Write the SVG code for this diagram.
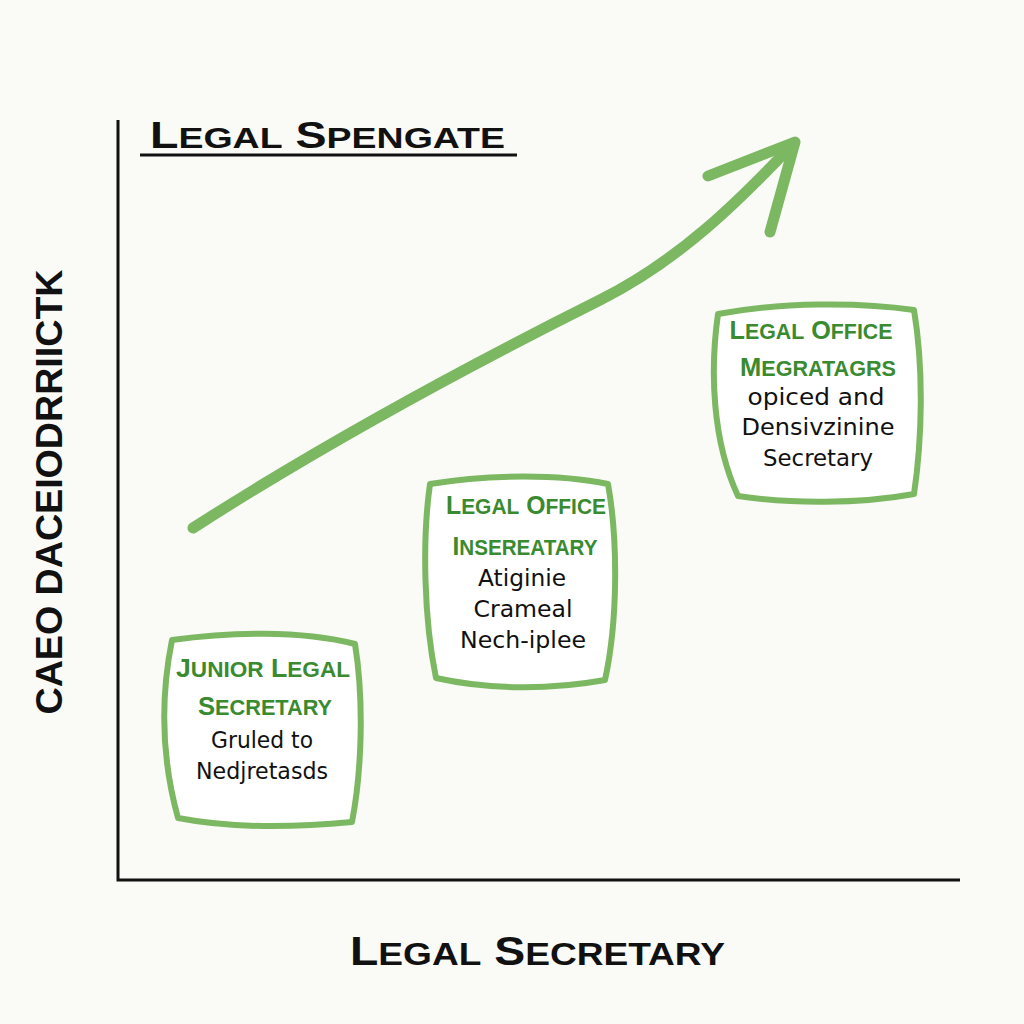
<svg xmlns="http://www.w3.org/2000/svg" width="1024" height="1024" viewBox="0 0 1024 1024">
<style>
.axis{stroke:#111;stroke-width:3;fill:none}
.box{fill:#fff;stroke:#7cb862;stroke-width:6;stroke-linejoin:round}
.g{font-family:"Liberation Sans",Arial,sans-serif;fill:#3a8a30;text-anchor:middle;font-size:26px;font-weight:bold}
.g tspan{font-size:22px}
.b{font-family:"DejaVu Sans","Liberation Sans",sans-serif;fill:#111;text-anchor:middle;font-size:23px}
.h{font-family:"Liberation Sans",Arial,sans-serif;fill:#111;font-weight:bold}
.arrow{stroke:#7cb862;stroke-width:11;fill:none;stroke-linecap:round;stroke-linejoin:round}
</style>
<rect width="1024" height="1024" fill="#fafaf7"/>
<g id="axes">
<path class="axis" d="M118 120 L118 880 L960 880"/>
<line x1="140" y1="155" x2="517" y2="155" stroke="#111" stroke-width="3"/>
</g>
<g id="title">
<text class="h" x="150" y="148" font-size="36" textLength="355" lengthAdjust="spacingAndGlyphs">L<tspan font-size="29">EGAL</tspan> S<tspan font-size="29">PENGATE</tspan></text>
</g>
<g id="ylabel">
<text class="h" transform="translate(62 492) rotate(-90)" text-anchor="middle" font-size="36" textLength="445" lengthAdjust="spacingAndGlyphs">CAEO DACEIODRRIICTK</text>
</g>
<g id="xlabel">
<text class="h" x="350" y="965" font-size="40" textLength="375" lengthAdjust="spacingAndGlyphs">L<tspan font-size="32">EGAL</tspan> S<tspan font-size="32">ECRETARY</tspan></text>
</g>
<g id="connectors">
<path class="arrow" d="M193 528 C330 440 480 360 600 300 C680 260 740 200 792 145"/>
<path class="arrow" d="M708 176 L795 142 L770 232"/>
</g>
<g id="node1">
<path class="box" d="M172 640 C230 632 300 630 355 644 C364 700 362 770 352 822 C290 828 230 828 178 818 C162 760 160 700 172 640 Z"/>
<text class="g" x="263" y="677" textLength="174" lengthAdjust="spacingAndGlyphs">J<tspan>UNIOR</tspan> L<tspan>EGAL</tspan></text>
<text class="g" x="265" y="715" textLength="134" lengthAdjust="spacingAndGlyphs">S<tspan>ECRETARY</tspan></text>
<text class="b" x="262" y="748" textLength="102" lengthAdjust="spacingAndGlyphs">Gruled to</text>
<text class="b" x="262" y="779" textLength="132" lengthAdjust="spacingAndGlyphs">Nedjretasds</text>
</g>
<g id="node2">
<path class="box" d="M430 484 C490 474 560 474 608 484 C618 540 618 620 605 680 C550 690 490 690 436 678 C424 620 422 540 430 484 Z"/>
<text class="g" x="526" y="514" textLength="160" lengthAdjust="spacingAndGlyphs">L<tspan>EGAL</tspan> O<tspan>FFICE</tspan></text>
<text class="g" x="525" y="555" textLength="145" lengthAdjust="spacingAndGlyphs">I<tspan>NSEREATARY</tspan></text>
<text class="b" x="522" y="586" textLength="88" lengthAdjust="spacingAndGlyphs">Atiginie</text>
<text class="b" x="523" y="617" textLength="99" lengthAdjust="spacingAndGlyphs">Crameal</text>
<text class="b" x="523" y="648" textLength="126" lengthAdjust="spacingAndGlyphs">Nech-iplee</text>
</g>
<g id="node3">
<path class="box" d="M718 314 C780 302 860 302 914 310 C924 370 922 440 914 494 C860 504 790 504 738 496 C712 440 710 370 718 314 Z"/>
<text class="g" x="811" y="339" textLength="163" lengthAdjust="spacingAndGlyphs">L<tspan>EGAL</tspan> O<tspan>FFICE</tspan></text>
<text class="g" x="818" y="376" textLength="156" lengthAdjust="spacingAndGlyphs">M<tspan>EGRATAGRS</tspan></text>
<text class="b" x="816" y="405" textLength="137" lengthAdjust="spacingAndGlyphs">opiced and</text>
<text class="b" x="818" y="435" textLength="153" lengthAdjust="spacingAndGlyphs">Densivzinine</text>
<text class="b" x="818" y="466" textLength="110" lengthAdjust="spacingAndGlyphs">Secretary</text>
</g>
</svg>
